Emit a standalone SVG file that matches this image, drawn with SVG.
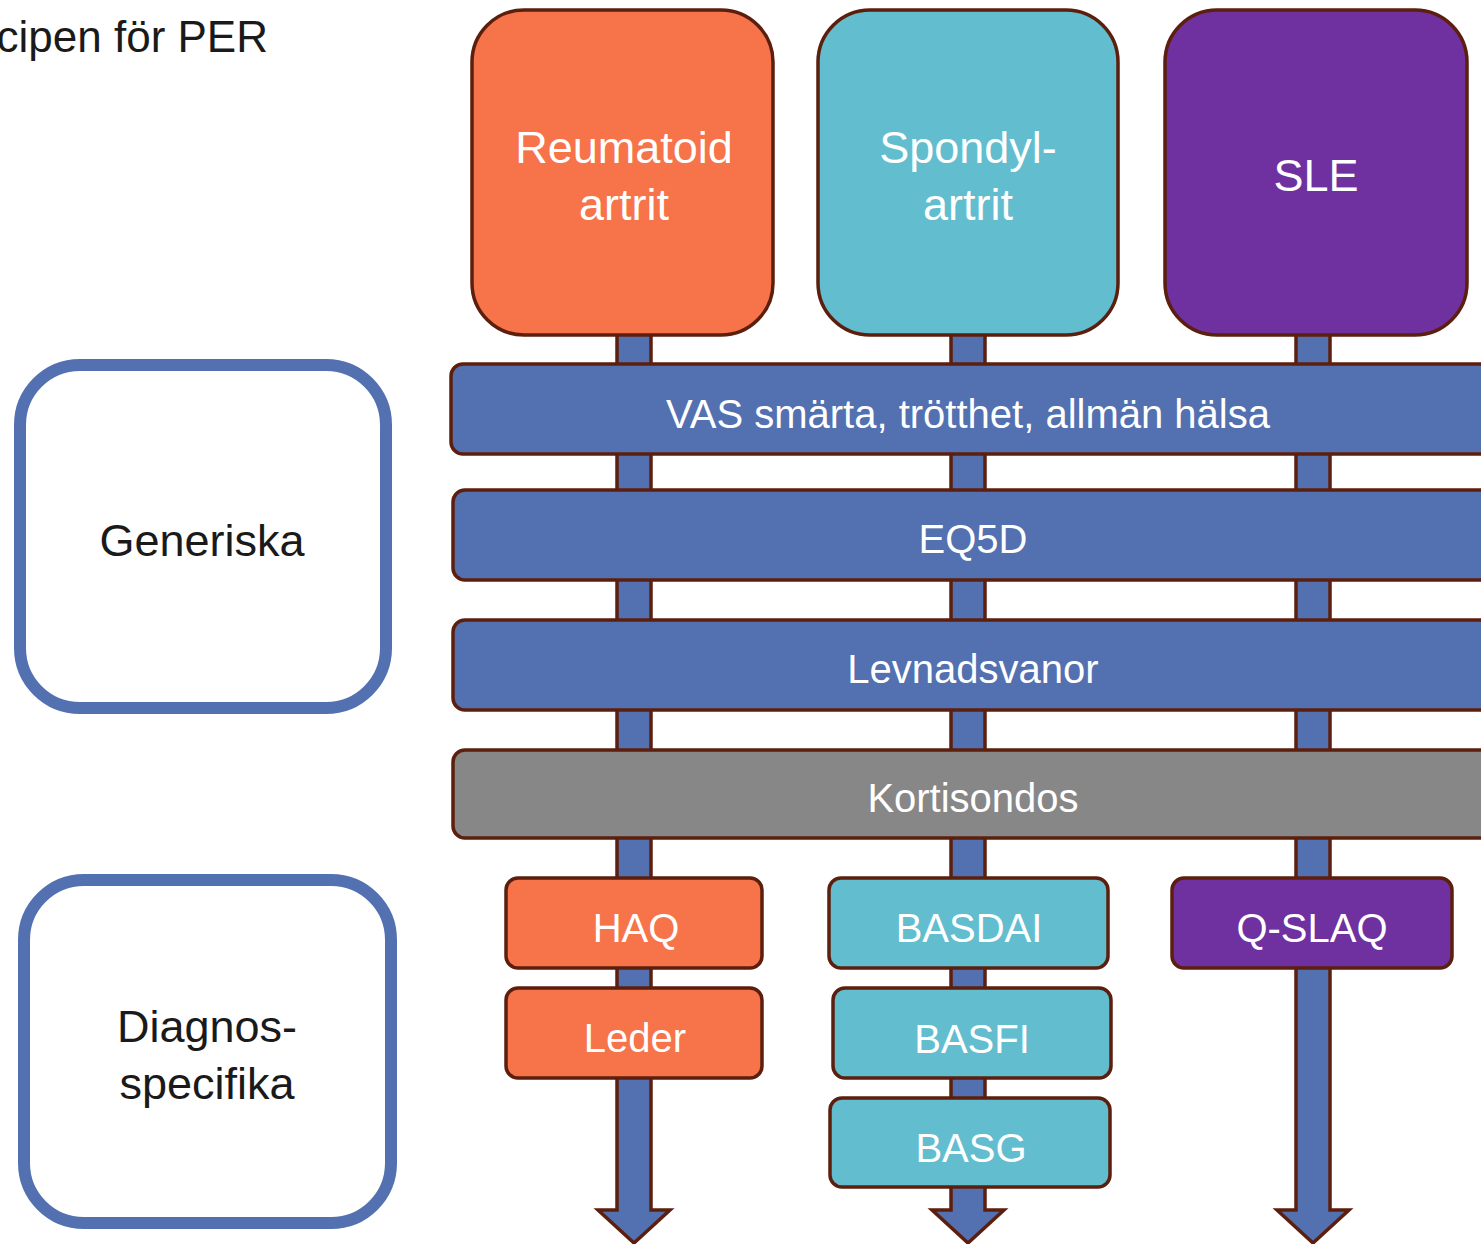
<svg xmlns="http://www.w3.org/2000/svg" width="1481" height="1244" viewBox="0 0 1481 1244">
<style>
text{font-family:"Liberation Sans",Arial,sans-serif;text-anchor:middle}
.w{fill:#ffffff}
.k{fill:#1a1a1a}
.big{font-size:45px}
.mid{font-size:40px}
.bx{stroke:#5c1f0e;stroke-width:3.5}
.arr{fill:#5370b0;stroke:#5c1f0e;stroke-width:3.5;stroke-linejoin:miter}
.side{fill:#ffffff;stroke:#5370b0;stroke-width:12}
.ra{fill:#f7734a}
.sp{fill:#62bdcf}
.sl{fill:#6f30a0}
.bl{fill:#5370b0}
.gr{fill:#878787}
</style>
<text class="k" x="268" y="52" style="text-anchor:end;font-size:44px">cipen för PER</text>
<g id="connectors">
<polygon class="arr" points="617,320 651,320 651,1210 670,1210 634,1243 598,1210 617,1210"/>
<polygon class="arr" points="951,320 985,320 985,1210 1004,1210 968,1243 932,1210 951,1210"/>
<polygon class="arr" points="1296,320 1330,320 1330,1210 1349,1210 1313,1243 1277,1210 1296,1210"/>
</g>
<g id="node-ra"><rect class="bx ra" x="472" y="10" width="301" height="325" rx="52"/><text class="w big" x="624" y="163">Reumatoid</text><text class="w big" x="624" y="220">artrit</text></g>
<g id="node-spa"><rect class="bx sp" x="818" y="10" width="300" height="325" rx="52"/><text class="w big" x="968" y="163">Spondyl-</text><text class="w big" x="968" y="220">artrit</text></g>
<g id="node-sle"><rect class="bx sl" x="1165" y="10" width="302" height="325" rx="52"/><text class="w big" x="1316" y="191">SLE</text></g>
<g id="node-vas"><rect class="bx bl" x="451" y="364" width="1050" height="90" rx="12"/><text class="w mid" x="968" y="428">VAS smärta, trötthet, allmän hälsa</text></g>
<g id="node-eq5d"><rect class="bx bl" x="453" y="490" width="1050" height="90" rx="12"/><text class="w mid" x="973" y="553">EQ5D</text></g>
<g id="node-levnad"><rect class="bx bl" x="453" y="620" width="1050" height="90" rx="12"/><text class="w mid" x="973" y="683">Levnadsvanor</text></g>
<g id="node-kort"><rect class="bx gr" x="453" y="750" width="1050" height="88" rx="12"/><text class="w mid" x="973" y="812">Kortisondos</text></g>
<g id="node-haq"><rect class="bx ra" x="506" y="878" width="256" height="90" rx="12"/><text class="w mid" x="636" y="942">HAQ</text></g>
<g id="node-leder"><rect class="bx ra" x="506" y="988" width="256" height="90" rx="12"/><text class="w mid" x="635" y="1052">Leder</text></g>
<g id="node-basdai"><rect class="bx sp" x="829" y="878" width="279" height="90" rx="12"/><text class="w mid" x="969" y="942">BASDAI</text></g>
<g id="node-basfi"><rect class="bx sp" x="833" y="988" width="278" height="90" rx="12"/><text class="w mid" x="972" y="1053">BASFI</text></g>
<g id="node-basg"><rect class="bx sp" x="830" y="1098" width="280" height="89" rx="12"/><text class="w mid" x="971" y="1162">BASG</text></g>
<g id="node-qslaq"><rect class="bx sl" x="1172" y="878" width="280" height="90" rx="12"/><text class="w mid" x="1312" y="942">Q-SLAQ</text></g>
<g id="node-generiska"><rect class="side" x="20" y="365" width="366" height="343" rx="60"/><text class="k big" x="202" y="556">Generiska</text></g>
<g id="node-diagnos"><rect class="side" x="24" y="880" width="367" height="343" rx="60"/><text class="k big" x="207" y="1042">Diagnos-</text><text class="k big" x="207" y="1099">specifika</text></g>
</svg>
